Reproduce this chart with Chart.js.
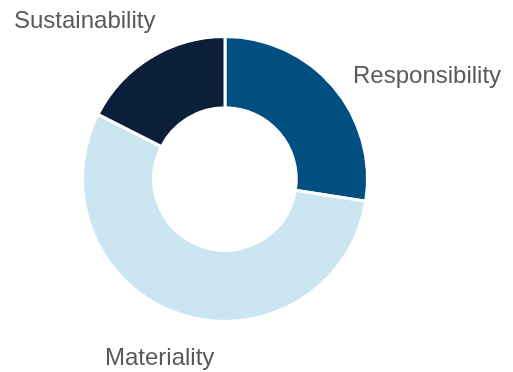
<!DOCTYPE html>
<html>
<head>
<meta charset="utf-8">
<script src="https://cdn.jsdelivr.net/npm/chart.js@4/dist/chart.umd.min.js"></script>
<style>
  html, body { margin: 0; padding: 0; background: #fff; }
  #wrap { width: 513px; height: 372px; }
</style>
</head>
<body>
<div id="wrap"><canvas id="donut" width="513" height="372"></canvas></div>
<script>
// data (share of the ring, %)
const categories = ['Responsibility', 'Materiality', 'Sustainability'];
const shares = [27.5, 55, 17.5];
const colours = ['#004f80', '#cce6f1', '#0b1f3a'];

// label anchors, relative to the ring centre (left edge / baseline)
const labelOffsets = {
    'Responsibility': [128, -96],
    'Materiality': [-120, 186],
    'Sustainability': [-211, -151]
};

const outsideLabels = {
    id: 'outsideLabels',
    afterDraw(chart) {
        const ctx = chart.ctx;
        const arcs = chart.getDatasetMeta(0).data;
        ctx.save();
        ctx.font = '24px "Liberation Sans", Arial, sans-serif';
        ctx.fillStyle = '#595959';
        ctx.textAlign = 'left';
        ctx.textBaseline = 'alphabetic';
        arcs.forEach(function(arc, i) {
            const name = chart.data.labels[i];
            const off = labelOffsets[name];
            ctx.fillText(name, arc.x + off[0], arc.y + off[1]);
        });
        ctx.restore();
    }
};

const ctx = document.getElementById('donut').getContext('2d');
new Chart(ctx, {
    type: 'doughnut',
    data: {
        labels: categories,
        datasets: [{
            data: shares,
            backgroundColor: colours,
            borderColor: '#ffffff',
            borderWidth: 3
        }]
    },
    options: {
        responsive: false,
        animation: false,
        cutout: '50%',
        events: [],
        layout: {
            padding: { left: 81, top: 35, right: 144, bottom: 49 }
        },
        plugins: {
            legend: { display: false },
            tooltip: { enabled: false }
        }
    },
    plugins: [outsideLabels]
});
</script>
</body>
</html>
